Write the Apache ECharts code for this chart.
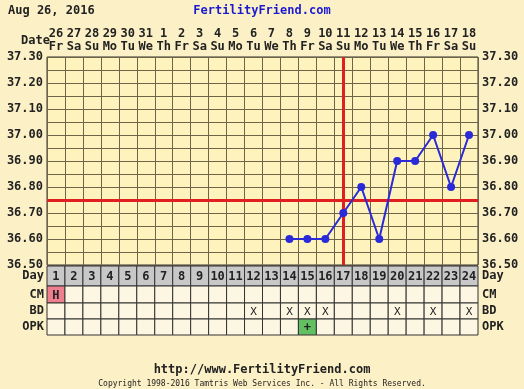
<!DOCTYPE html>
<html><head><meta charset="utf-8">
<script src="https://cdn.jsdelivr.net/npm/echarts@6/dist/echarts.min.js"></script>
<style>html,body{margin:0;padding:0;background:#fcf0c6}#c{width:524px;height:389px}</style>
</head><body><div id="c"></div>
<script>
// ---- data ----
const days = ['1','2','3','4','5','6','7','8','9','10','11','12','13','14','15','16','17','18','19','20','21','22','23','24'];
const dateNums = ['26','27','28','29','30','31','1','2','3','4','5','6','7','8','9','10','11','12','13','14','15','16','17','18'];
const weekdays = ['Fr','Sa','Su','Mo','Tu','We','Th','Fr','Sa','Su','Mo','Tu','We','Th','Fr','Sa','Su','Mo','Tu','We','Th','Fr','Sa','Su'];
const temps = [null,null,null,null,null,null,null,null,null,null,null,null,null,
  36.60,36.60,36.60,36.70,36.80,36.60,36.90,36.90,37.00,36.80,37.00];
const coverline = 36.75;
const ovulationDay = '17';
const cmObs  = ['H','','','','','','','','','','','','','','','','','','','','','','',''];
const bdObs  = ['','','','','','','','','','','','X','','X','X','X','','','','X','','X','','X'];
const opkObs = ['','','','','','','','','','','','','','','+','','','','','','','','',''];
const tempMin = 36.5, tempMax = 37.3, tempStep = 0.05;
const chartDate = 'Aug 26, 2016';

// ---- styles ----
const FONT = '"DejaVu Sans Mono", monospace';
const GRID_LINE = '#6e6448';
const L = 47, R = 46;

const chart = echarts.init(document.getElementById('c'), null, {renderer:'canvas'});

const rows = [
  {name:'Day', top:266, h:20, text:(i)=>days[i], fill:()=> '#c8c8c8', font:'bold 12px '+FONT},
  {name:'CM',  top:286, h:17, text:(i)=>cmObs[i], fill:(i)=> cmObs[i] ? '#ef7f8f' : '#fdf6e3', font:'bold 12px '+FONT},
  {name:'BD',  top:303, h:16, text:(i)=>bdObs[i], fill:()=> '#fdf6e3', font:'11px '+FONT},
  {name:'OPK', top:319, h:16, text:(i)=>opkObs[i], fill:(i)=> opkObs[i] ? '#62c062' : '#fdf6e3', font:'bold 12px '+FONT},
];

const grids = [{left:L, right:R, top:57, height:208, show:true, backgroundColor:'#fff3bd', borderColor:'#333', borderWidth:1}];
const xAxes = [{
  gridIndex:0, type:'category', data:days, position:'top', boundaryGap:true,
  axisLine:{show:false}, axisTick:{show:false},
  splitLine:{show:true, lineStyle:{color:GRID_LINE, width:1}},
  axisLabel:{interval:0, margin:4, lineHeight:13, fontFamily:FONT, fontWeight:'bold', fontSize:12, color:'#222',
    formatter:(v, i)=> dateNums[i] + '\n' + weekdays[i]}
}];
const yLabelFmt = (v)=> (Math.round(v*100) % 10 === 0) ? v.toFixed(2) : '';
const yAxes = [
  {gridIndex:0, type:'value', min:tempMin, max:tempMax, interval:tempStep, position:'left',
   axisLine:{show:false}, axisTick:{show:false},
   splitLine:{show:true, lineStyle:{color:GRID_LINE, width:1}},
   axisLabel:{margin:4, fontFamily:FONT, fontWeight:'bold', fontSize:12, color:'#222', formatter:yLabelFmt, showMinLabel:true, showMaxLabel:true}},
  {gridIndex:0, type:'value', min:tempMin, max:tempMax, interval:tempStep, position:'right',
   axisLine:{show:false}, axisTick:{show:false}, splitLine:{show:false},
   axisLabel:{margin:4, fontFamily:FONT, fontWeight:'bold', fontSize:12, color:'#222', formatter:yLabelFmt, showMinLabel:true, showMaxLabel:true}},
];
const series = [{
  type:'line', xAxisIndex:0, yAxisIndex:0, data:temps,
  symbol:'circle', symbolSize:8, z:5,
  lineStyle:{color:'#2a2ad8', width:2}, itemStyle:{color:'#2a2ad8'},
  markLine:{silent:true, symbol:'none', label:{show:false}, z:4,
    lineStyle:{color:'#e02020', width:3, type:'solid'},
    data:[{yAxis:coverline}, {xAxis:ovulationDay}]}
}];

rows.forEach((r, k)=>{
  const gi = k+1;
  grids.push({left:L, right:R, top:r.top, height:r.h});
  xAxes.push({gridIndex:gi, type:'category', data:days, boundaryGap:true,
    axisLine:{show:false}, axisTick:{show:false}, axisLabel:{show:false}, splitLine:{show:false}});
  const ya = yAxes.length;
  yAxes.push({gridIndex:gi, type:'category', data:[r.name], position:'left',
    axisLine:{show:false}, axisTick:{show:false}, splitLine:{show:false},
    axisLabel:{margin:3, padding:[2,0,0,0], fontFamily:FONT, fontWeight:'bold', fontSize:12, color:'#222'}});
  yAxes.push({gridIndex:gi, type:'category', data:[r.name], position:'right',
    axisLine:{show:false}, axisTick:{show:false}, splitLine:{show:false},
    axisLabel:{margin:4, padding:[2,0,0,0], fontFamily:FONT, fontWeight:'bold', fontSize:12, color:'#222'}});
  series.push({
    type:'custom', xAxisIndex:gi, yAxisIndex:ya,
    data: days.map((d,i)=>[i,0]),
    renderItem:(params, api)=>{
      const i = params.dataIndex;
      const c = api.coord([api.value(0), api.value(1)]);
      const s = api.size([1,1]);
      return {type:'group', children:[
        {type:'rect', shape:{x:c[0]-s[0]/2, y:c[1]-s[1]/2, width:s[0], height:s[1]},
         style:{fill:r.fill(i), stroke:'#333', lineWidth:1}},
        {type:'text', style:{text:r.text(i) || '', x:c[0], y:c[1]+1, align:'center', verticalAlign:'middle', font:r.font, fill:'#222'}}
      ]};
    }
  });
});

chart.setOption({
  backgroundColor:'#fcf0c6',
  animation:false,
  title:[
    {text:chartDate, left:3, top:0, textStyle:{fontFamily:FONT, fontWeight:'bold', fontSize:12, color:'#222'}},
    {text:'FertilityFriend.com', left:'center', top:0, textStyle:{fontFamily:FONT, fontWeight:'bold', fontSize:12, color:'#1a1ad0'}},
    {text:'Date', left:16, top:30, textStyle:{fontFamily:FONT, fontWeight:'bold', fontSize:12, color:'#222'}},
    {text:'http://www.FertilityFriend.com', left:'center', top:359, textStyle:{fontFamily:FONT, fontWeight:'bold', fontSize:12, color:'#222'}},
    {text:'Copyright 1998-2016 Tamtris Web Services Inc. - All Rights Reserved.', left:'center', top:375, textStyle:{fontFamily:FONT, fontWeight:'normal', fontSize:8, color:'#222'}},
  ],
  grid:grids, xAxis:xAxes, yAxis:yAxes, series:series
});
</script></body></html>
